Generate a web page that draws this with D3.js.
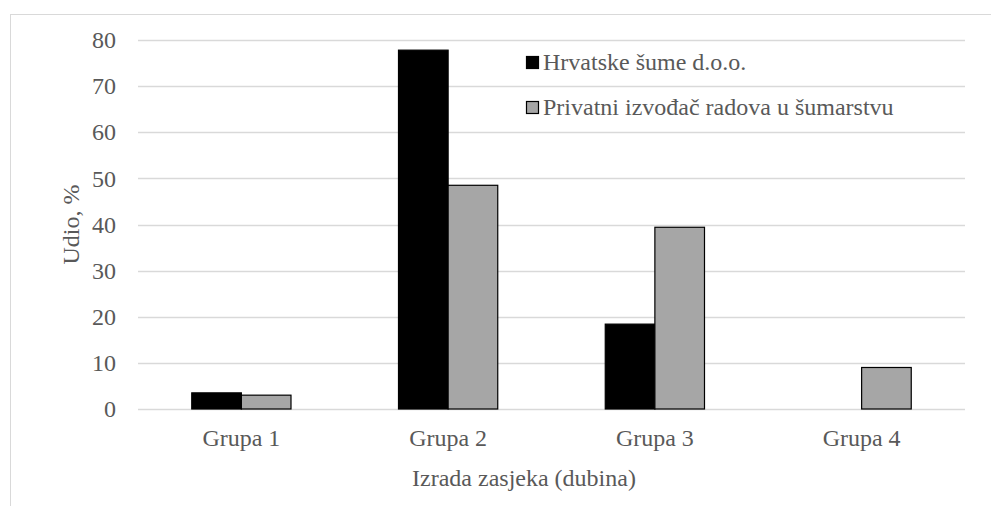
<!DOCTYPE html>
<html lang="hr">
<head>
    <meta charset="UTF-8">
    <title>Izrada zasjeka</title>
    <script src="https://cdn.jsdelivr.net/npm/d3@7/dist/d3.min.js"></script>
    <style>
        body { margin: 0; background: #fff; }
    </style>
</head>
<body>
<div id="chart"></div>
<script>
    // podaci
    var categories = ["Grupa 1", "Grupa 2", "Grupa 3", "Grupa 4"];
    var seriesNames = ["Hrvatske šume d.o.o.", "Privatni izvođač radova u šumarstvu"];
    var hrvatskeSume = [3.5, 77.8, 18.4, 0];
    var privatni = [3.0, 48.5, 39.4, 9.0];
    var yTicks = [0, 10, 20, 30, 40, 50, 60, 70, 80];

    var width = 991, height = 506;
    var margin = {left: 138, right: 26, top: 40, bottom: 97};
    var colors = ["#000000", "#a6a6a6"];
    var fontFam = "'Liberation Serif', 'Times New Roman', 'DejaVu Serif', serif";

    var svg = d3.select("#chart").append("svg")
        .attr("width", width).attr("height", height);

    // okvir grafikona
    svg.append("rect")
        .attr("x", 10.5).attr("y", 14.5)
        .attr("width", width).attr("height", height)
        .attr("fill", "none").attr("stroke", "#d9d9d9");

    var x0 = d3.scaleBand().domain(categories)
        .range([margin.left, width - margin.right])
        .paddingInner(0.52).paddingOuter(0.26);
    var x1 = d3.scaleBand().domain([0, 1]).range([0, x0.bandwidth()]);
    var y = d3.scaleLinear().domain([0, 80]).range([height - margin.bottom, margin.top]);

    // mreža
    svg.append("g").selectAll("line").data(yTicks).enter().append("line")
        .attr("x1", margin.left).attr("x2", width - margin.right)
        .attr("y1", function(d){ return Math.round(y(d)) + 0.5; })
        .attr("y2", function(d){ return Math.round(y(d)) + 0.5; })
        .attr("stroke", "#d9d9d9").attr("stroke-width", 1.3);

    // y os
    var yAxis = d3.axisLeft(y).tickValues(yTicks).tickSize(0).tickPadding(22);
    var gy = svg.append("g").attr("transform", "translate(" + margin.left + ",0)").call(yAxis);
    gy.select(".domain").remove();

    // x os
    var xAxis = d3.axisBottom(x0).tickSize(0).tickPadding(20);
    var gx = svg.append("g").attr("transform", "translate(0," + (height - margin.bottom) + ")").call(xAxis);
    gx.select(".domain").remove();

    // stupci
    var series = [hrvatskeSume, privatni];
    series.forEach(function(values, s){
        svg.append("g").selectAll("rect").data(values).enter().append("rect")
            .filter(function(d){ return d > 0; })
            .attr("x", function(d, i){ return x0(categories[i]) + x1(s); })
            .attr("y", function(d){ return y(d); })
            .attr("width", x1.bandwidth())
            .attr("height", function(d){ return y(0) - y(d); })
            .attr("fill", colors[s])
            .attr("stroke", "#000").attr("stroke-width", 1.2);
    });

    // naslovi osi
    svg.append("text")
        .attr("transform", "translate(79," + ((y(0) + y(80)) / 2) + ") rotate(-90)")
        .attr("text-anchor", "middle")
        .text("Udio, %");
    svg.append("text")
        .attr("x", 524).attr("y", 486)
        .attr("text-anchor", "middle")
        .text("Izrada zasjeka (dubina)");

    // legenda
    var legend = svg.append("g").attr("transform", "translate(526,56)");
    seriesNames.forEach(function(name, s){
        var g = legend.append("g").attr("transform", "translate(0," + (s * 45) + ")");
        g.append("rect").attr("x", 0.5).attr("y", 0.5).attr("width", 12).attr("height", 12)
            .attr("fill", colors[s]).attr("stroke", "#000").attr("stroke-width", 1.2);
        g.append("text").attr("x", 17).attr("y", 14)
            .text(name);
    });

    // sav tekst: serif, siva boja
    svg.selectAll("text")
        .attr("font-family", null)
        .style("font-family", fontFam)
        .style("font-size", "24px")
        .style("fill", "#595959");
</script>
</body>
</html>
